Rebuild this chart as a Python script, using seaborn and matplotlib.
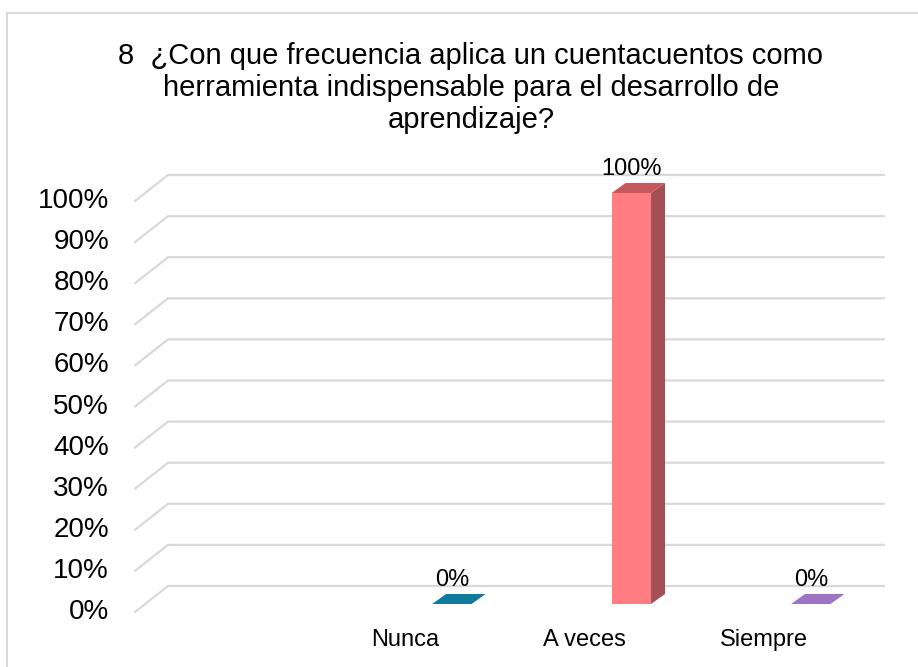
import matplotlib.pyplot as plt
import numpy as np
import pandas as pd
import seaborn as sns
from matplotlib.lines import Line2D
from matplotlib.patches import Polygon

categories = ["Nunca", "A veces", "Siempre"]
values = [0.0, 1.0, 0.0]
value_labels = ["0%", "100%", "0%"]
tick_values = [0.0, 0.1, 0.2, 0.3, 0.4, 0.5, 0.6, 0.7, 0.8, 0.9, 1.0]
tick_labels = ["0%", "10%", "20%", "30%", "40%", "50%", "60%", "70%", "80%", "90%", "100%"]
title = ("8  ¿Con que frecuencia aplica un cuentacuentos como\n"
         "herramienta indispensable para el desarrollo de\n"
         "aprendizaje?")

front_colors = ["#0F7A9C", "#FF7C80", "#9E73C4"]
side_colors = ["#0A5A73", "#A34F54", "#74548F"]
top_colors = ["#0F7A9C", "#C45A5F", "#9E73C4"]
grid_color = "#D9D9D9"

sns.set_theme(style="white")
plt.rcParams["font.family"] = ["Liberation Sans", "DejaVu Sans"]

fig = plt.figure(figsize=(9.18, 6.67), dpi=100)
# axes = front plane of the bars, in pixels: x 145..861, y(0)=604, y(1)=193
ax = fig.add_axes([145 / 918, 63 / 667, 716 / 918, 411 / 667])

df = pd.DataFrame({"categoria": categories, "valor": values})
sns.barplot(data=df, x="categoria", y="valor", hue="categoria", palette=front_colors,
            width=0.22, legend=False, ax=ax, saturation=1, linewidth=0, zorder=3)
ax.set_xlim(-1.71, 2.28)
ax.set_ylim(0, 1)
ax.axis("off")


def shifted(x, y, dx, dy):
    disp = ax.transData.transform((x, y)) + np.array([dx, dy])
    return ax.transData.inverted().transform(disp)


# perspective offsets in pixels (matplotlib y up)
back = (23, 18)
front = (-10, -8)
depth = (14, 10)

x0, x1 = ax.get_xlim()
for v, lab in zip(tick_values, tick_labels):
    p_front = shifted(x0, v, *front)
    p_back = shifted(x0, v, *back)
    p_right = shifted(x1, v, *back)
    ax.add_line(Line2D([p_front[0], p_back[0], p_right[0]],
                       [p_front[1], p_back[1], p_right[1]],
                       color=grid_color, lw=1.6, zorder=1, clip_on=False))
    pt = shifted(x0, v, -36, front[1])
    ax.text(pt[0], pt[1], lab, ha="right", va="center", fontsize=20,
            color="#000000", clip_on=False)

w = 0.22
for i, (v, lab) in enumerate(zip(values, value_labels)):
    xl, xr = i - w / 2, i + w / 2
    if v > 0:
        side = [(xr, 0), (xr, v), shifted(xr, v, *depth), shifted(xr, 0, *depth)]
        ax.add_patch(Polygon(side, closed=True, facecolor=side_colors[i],
                             edgecolor="none", zorder=2.5, clip_on=False))
    top = [(xl, v), (xr, v), shifted(xr, v, *depth), shifted(xl, v, *depth)]
    ax.add_patch(Polygon(top, closed=True, facecolor=top_colors[i],
                         edgecolor="none", zorder=2.6, clip_on=False))
    pt = shifted(i, v, 0, 24)
    ax.text(pt[0], pt[1], lab, ha="center", va="center", fontsize=17,
            color="#000000", clip_on=False)
    pc = shifted(i, 0, -47, -36)
    ax.text(pc[0], pc[1], categories[i], ha="center", va="center", fontsize=17,
            color="#000000", clip_on=False)

for p in ax.patches[:len(values)]:
    p.set_zorder(3)

fig.text(471 / 918, 1 - 88 / 667, title, ha="center", va="center",
         fontsize=21, linespacing=1.2, color="#000000")

# chart border (left and top edges visible)
fig.add_artist(Line2D([7 / 918, 7 / 918], [0, 1 - 13 / 667], transform=fig.transFigure,
                      color=grid_color, lw=1.5))
fig.add_artist(Line2D([7 / 918, 1], [1 - 13 / 667, 1 - 13 / 667], transform=fig.transFigure,
                      color=grid_color, lw=1.5))

fig.savefig("out.png", dpi=100)
